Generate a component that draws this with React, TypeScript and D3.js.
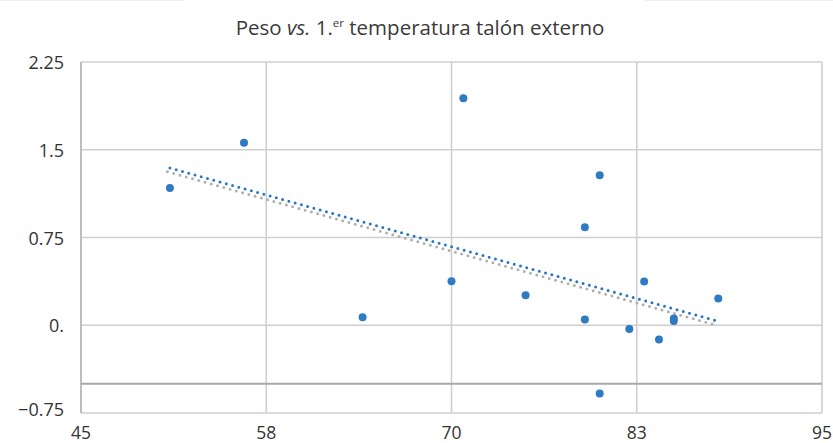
import React from "react";
import * as d3 from "d3";

const xValues = [51, 56, 64, 70.8, 70, 75, 79, 80, 79, 80, 82, 83, 84, 85, 85, 88];
const yValues = [1.174, 1.559, 0.068, 1.94, 0.376, 0.257, 0.838, 1.283, 0.049, -0.584, -0.032, 0.374, -0.122, 0.057, 0.037, 0.228];
const xTicks = [45, 57.5, 70, 82.5, 95];
const xTickLabels = ["45", "58", "70", "83", "95"];
const yTicks = [2.25, 1.5, 0.75, 0, -0.75];
const yTickLabels = ["2.25", "1.5", "0.75", "0.", "\u22120.75"];
const baseLineValue = -0.5;

const W = 833;
const H = 443;
const left = 81;
const right = 822;
const top = 62;
const bottom = 413;
const FONT = "'Open Sans', 'Noto Sans', sans-serif";

export default function App() {
  const x = d3.scaleLinear().domain([45, 95]).range([left, right]);
  const y = d3.scaleLinear().domain([-0.75, 2.25]).range([bottom, top]);

  const mx = d3.mean(xValues) as number;
  const my = d3.mean(yValues) as number;
  let sxy = 0;
  let sxx = 0;
  xValues.forEach((v, i) => {
    sxy += (v - mx) * (yValues[i] - my);
    sxx += (v - mx) * (v - mx);
  });
  const slope = sxy / sxx;
  const intercept = my - slope * mx;
  const [x0, x1] = d3.extent(xValues) as [number, number];
  const trend = [
    [x0, intercept + slope * x0],
    [x1, intercept + slope * x1],
  ];
  const line = d3
    .line<number[]>()
    .x((d) => x(d[0]))
    .y((d) => y(d[1]));
  const trendPath = line(trend) || "";

  const gridColor = "#cfcfcf";

  return (
    <svg
      width={W}
      height={H}
      style={{ position: "absolute", left: 0, top: 0, background: "#fff" }}
      fontFamily={FONT}
    >
      <rect x={0} y={0} width={W} height={H} fill="#fff" />
      <line x1={0} x2={185} y1={0.5} y2={0.5} stroke="#eeeeee" strokeWidth={1} />
      <line x1={645} x2={833} y1={0.5} y2={0.5} stroke="#eeeeee" strokeWidth={1} />
      <text x={420} y={35} textAnchor="middle" fontSize={20.5} fill="#3a3a3a">
        Peso <tspan fontStyle="italic">vs.</tspan> 1.
        <tspan fontSize={11.5} dy={-8}>er</tspan>
        <tspan dy={8}> temperatura talón externo</tspan>
      </text>
      {/* horizontal gridlines */}
      {yTicks.map((t, i) => (
        <line
          key={"hy" + i}
          x1={left}
          x2={right}
          y1={y(t)}
          y2={y(t)}
          stroke={gridColor}
          strokeWidth={1.6}
        />
      ))}
      {/* vertical gridlines */}
      {xTicks.map((t, i) => (
        <line
          key={"vx" + i}
          x1={x(t)}
          x2={x(t)}
          y1={top}
          y2={bottom}
          stroke={i === 0 ? "#bdbdbd" : gridColor}
          strokeWidth={i === 0 ? 2 : 1.6}
        />
      ))}
      <line
        x1={left}
        x2={right}
        y1={y(baseLineValue)}
        y2={y(baseLineValue)}
        stroke="#a8a8a8"
        strokeWidth={2}
      />
      {/* y labels */}
      {yTicks.map((t, i) => (
        <text
          key={"yl" + i}
          x={64}
          y={y(t) + (i === yTicks.length - 1 ? -4 : 0)}
          textAnchor="end"
          dominantBaseline="central"
          fontSize={18}
          fill="#333"
        >
          {yTickLabels[i]}
        </text>
      ))}
      {/* x labels */}
      {xTicks.map((t, i) => (
        <text
          key={"xl" + i}
          x={x(t)}
          y={432}
          textAnchor="middle"
          dominantBaseline="central"
          fontSize={17.5}
          fill="#333"
        >
          {xTickLabels[i]}
        </text>
      ))}
      {/* trend shadow */}
      <path
        d={trendPath}
        transform="translate(-2.5,3.8)"
        fill="none"
        stroke="#b0b0b0"
        strokeWidth={3}
        strokeLinecap="round"
        strokeDasharray="0 6.5"
      />
      <path
        d={trendPath}
        fill="none"
        stroke="#2b78c2"
        strokeWidth={3}
        strokeLinecap="round"
        strokeDasharray="0 6.5"
      />
      {xValues.map((v, i) => (
        <circle key={"p" + i} cx={x(v)} cy={y(yValues[i])} r={4} fill="#2e7bc4" />
      ))}
    </svg>
  );
}
